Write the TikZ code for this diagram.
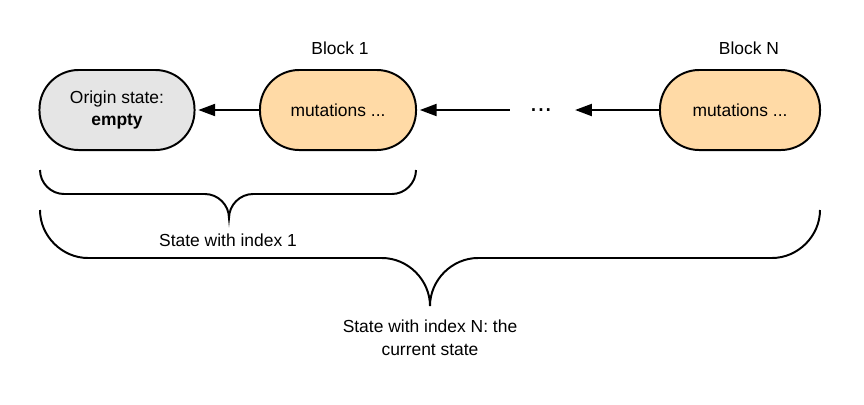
\documentclass[tikz,border=0pt]{standalone}
\usepackage{fontspec}
\setmainfont{Liberation Sans}
\usepackage{tikz}
\usetikzlibrary{calc,positioning,arrows.meta}

\definecolor{origingray}{HTML}{E5E5E5}
\definecolor{blockorange}{HTML}{FFDAA6}

\tikzset{
    state/.style={draw, line width=1.4pt, rectangle, rounded corners=0.98cm, minimum height=2cm, minimum width=3.9cm, font=\fontsize{12.4}{15.8}\selectfont},
    link/.style={line width=1.4pt, -{Triangle[length=0.42cm, width=0.3cm]}, shorten >=2pt},
    brace_line/.style={line width=1.4pt},
    label_text/.style={font=\fontsize{12.4}{16.3}\selectfont}
}

\begin{document}
\begin{tikzpicture}[x=0.025cm, y=-0.025cm, align=center]
    \useasboundingbox (0,0) rectangle (864,404);

    \node [state, fill=origingray, minimum width=3.875cm] (origin_state) at (117,110) {Origin state:\\\textbf{empty}};
    \node [state, fill=blockorange] (block_one) at (338,110) {mutations ...};
    \node [state, fill=blockorange, minimum width=4cm] (block_n) at (740,110) {mutations ...};
    \node [font=\fontsize{19}{20}\selectfont, minimum width=1.55cm, inner sep=0] (dots) at (541,110) {...};

    \node [label_text] (block_one_label) at (340,48) {Block 1};
    \node [label_text] (block_n_label) at (749,48) {Block N};

    \draw[link] (block_one) -- (origin_state);
    \draw[link] (dots) -- (block_one);
    \draw[link] (block_n) -- (dots);

    % braces
    \draw[brace_line] (40,170) .. controls (40,183) and (51,194) .. (64,194) -- (205,194)
        .. controls (218,194) and (229,205) .. (229,218)
        .. controls (229,205) and (240,194) .. (253,194) -- (392,194)
        .. controls (405,194) and (416,183) .. (416,170);
    \draw[brace_line] (40,210) .. controls (40,236) and (62,258) .. (88,258) -- (382,258)
        .. controls (408,258) and (430,280) .. (430,306)
        .. controls (430,280) and (452,258) .. (478,258) -- (772,258)
        .. controls (798,258) and (820,236) .. (820,210);

    \node [label_text] (index_one) at (228,240) {State with index 1};
    \node [label_text] (index_n) at (430,338) {State with index N: the\\current state};
\end{tikzpicture}
\end{document}
